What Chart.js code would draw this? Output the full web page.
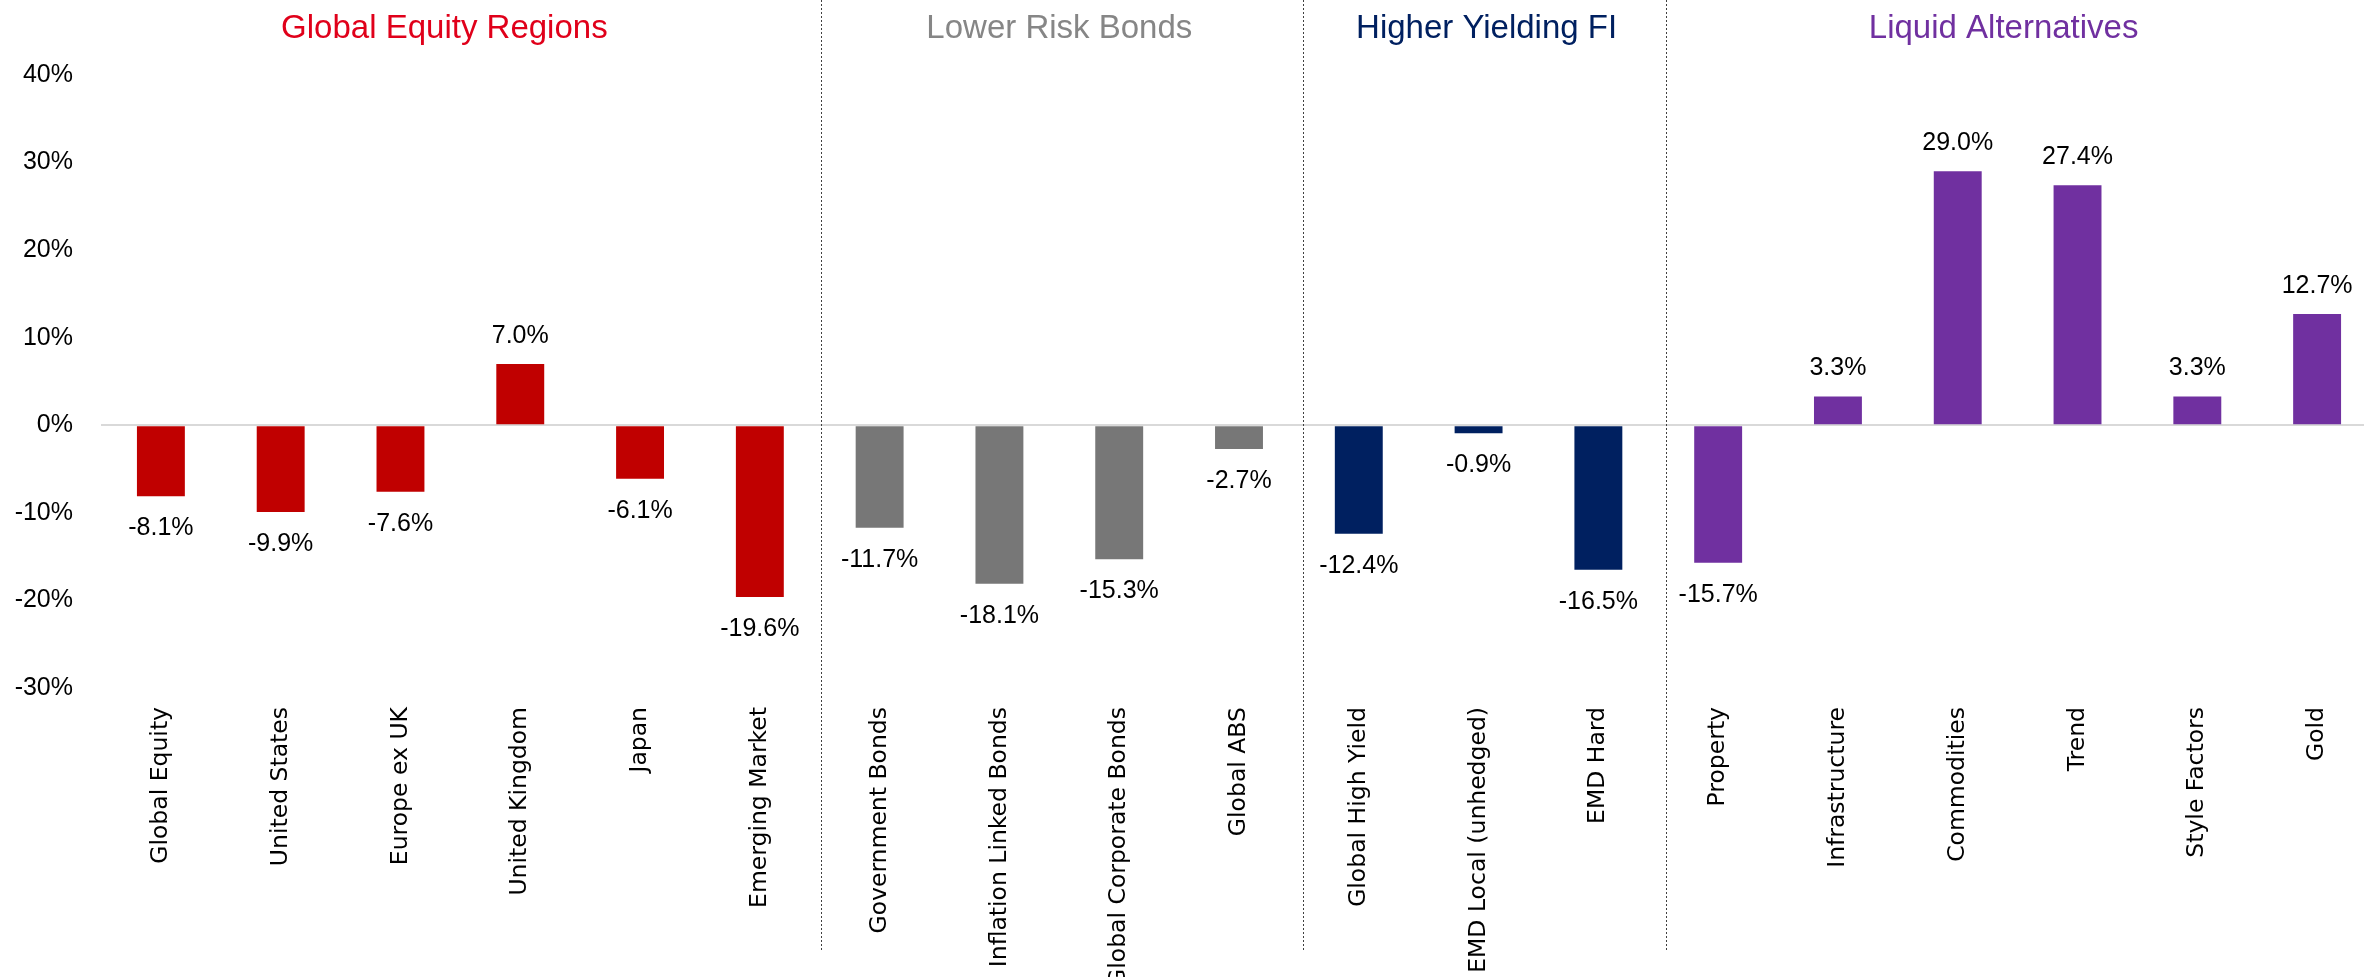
<!DOCTYPE html>
<html>
<head>
<meta charset="utf-8">
<title>Asset class returns</title>
<script src="https://cdn.jsdelivr.net/npm/chart.js@4/dist/chart.umd.min.js"></script>
<style>
  html, body { margin: 0; padding: 0; background: #ffffff; overflow: hidden; }
  #wrap { width: 2364px; height: 977px; overflow: hidden; }
  canvas { display: block; }
</style>
</head>
<body>
<div id="wrap"><canvas id="chart" width="2380" height="977"></canvas></div>
<script>
// Asset classes, in display order
const categories = [
  'Global Equity', 'United States', 'Europe ex UK', 'United Kingdom', 'Japan', 'Emerging Market',
  'Government Bonds', 'Inflation Linked Bonds', 'Global Corporate Bonds', 'Global ABS',
  'Global High Yield', 'EMD Local (unhedged)', 'EMD Hard',
  'Property', 'Infrastructure', 'Commodities', 'Trend', 'Style Factors', 'Gold'
];

// Returns (%)
const returns = [
  -8.1, -9.9, -7.6, 7.0, -6.1, -19.6,
  -11.7, -18.1, -15.3, -2.7,
  -12.4, -0.9, -16.5,
  -15.7, 3.3, 29.0, 27.4, 3.3, 12.7
];

// Groups: heading and number of asset classes in each
const groupNames = ['Global Equity Regions', 'Lower Risk Bonds', 'Higher Yielding FI', 'Liquid Alternatives'];
const groupSizes = [6, 4, 3, 6];

// Value axis ticks (%)
const yTicks = [-30, -20, -10, 0, 10, 20, 30, 40];

// ---- styling ----
const barColors = ['#C00000', '#777777', '#002060', '#7030A0'];
const headingColors = ['#E0001A', '#868686', '#002060', '#7030A0'];
const headingNudge = [-16, 0, 8, -14];
const dividerNudge = [1, 4, 8];
const LABEL_FONT = '"Liberation Sans", Arial, sans-serif';

const groupOf = [];
groupSizes.forEach((n, g) => { for (let i = 0; i < n; i++) groupOf.push(g); });

const fmt = v => v.toFixed(1) + '%';

const overlay = {
  id: 'overlay',
  afterDatasetsDraw(chart) {
    const ctx = chart.ctx;
    const x = chart.scales.x;
    const meta = chart.getDatasetMeta(0);

    // value labels above / below each bar
    ctx.save();
    ctx.font = '25px ' + LABEL_FONT;
    ctx.fillStyle = '#000000';
    ctx.textAlign = 'center';
    ctx.textBaseline = 'middle';
    meta.data.forEach((bar, i) => {
      const v = returns[i];
      const y = v >= 0 ? bar.y - 28 : bar.y + 32;
      ctx.fillText(fmt(v), bar.x, y);
    });
    ctx.restore();

    // dotted separators between groups
    ctx.save();
    ctx.strokeStyle = '#404040';
    ctx.lineWidth = 1;
    ctx.setLineDash([2, 2]);
    let start = 0;
    for (let g = 0; g < groupSizes.length - 1; g++) {
      start += groupSizes[g];
      const px = Math.round(x.getPixelForValue(start - 0.5) + dividerNudge[g]) + 0.5;
      ctx.beginPath();
      ctx.moveTo(px, 0);
      ctx.lineTo(px, 952);
      ctx.stroke();
    }
    ctx.restore();

    // group headings
    ctx.save();
    ctx.font = '33px ' + LABEL_FONT;
    ctx.textAlign = 'center';
    ctx.textBaseline = 'middle';
    let first = 0;
    groupNames.forEach((name, g) => {
      const last = first + groupSizes[g] - 1;
      const cx = (x.getPixelForValue(first) + x.getPixelForValue(last)) / 2 + headingNudge[g];
      ctx.fillStyle = headingColors[g];
      ctx.fillText(name, cx, 29);
      first = last + 1;
    });
    ctx.restore();
  }
};

new Chart(document.getElementById('chart'), {
  type: 'bar',
  data: {
    labels: categories,
    datasets: [{
      data: returns,
      backgroundColor: returns.map((_, i) => barColors[groupOf[i]]),
      borderWidth: 0,
      barPercentage: 0.4,
      categoryPercentage: 1.0
    }]
  },
  options: {
    responsive: false,
    animation: false,
    events: [],
    layout: { padding: { top: 75, right: 3, left: 0, bottom: 0 } },
    plugins: {
      legend: { display: false },
      tooltip: { enabled: false },
      title: { display: false }
    },
    scales: {
      x: {
        offset: true,
        grid: { display: false, drawTicks: false },
        border: { display: false },
        ticks: {
          autoSkip: false,
          minRotation: 90,
          maxRotation: 90,
          padding: 19,
          color: '#000000',
          font: { family: '"DejaVu Sans", Verdana, sans-serif', size: 23.5 }
        },
        afterFit(scale) { scale.height = 289; }
      },
      y: {
        min: -30,
        max: 40,
        afterBuildTicks(scale) { scale.ticks = yTicks.map(v => ({ value: v })); },
        grid: {
          drawTicks: false,
          lineWidth: 2,
          color: c => (c.tick && c.tick.value === 0 ? '#D9D9D9' : 'rgba(0,0,0,0)')
        },
        border: { display: false },
        ticks: {
          padding: 28,
          color: '#000000',
          font: { family: LABEL_FONT, size: 25 },
          callback: v => v + '%'
        },
        afterFit(scale) { scale.width = 101; }
      }
    }
  },
  plugins: [overlay]
});
</script>
</body>
</html>
